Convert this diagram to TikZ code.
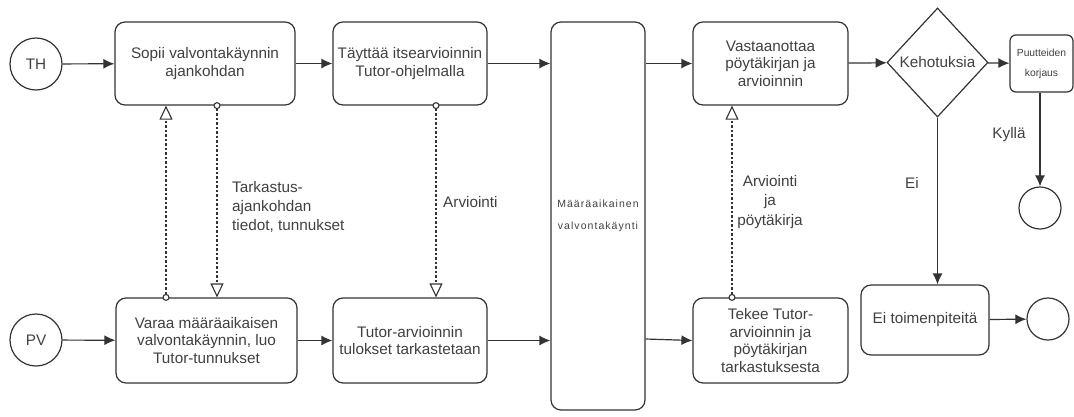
\documentclass[tikz,border=0pt]{standalone}
\usepackage{fontspec}
\setmainfont{Liberation Sans}
\usepackage{tikz}
\usetikzlibrary{positioning,arrows.meta,calc,shapes.geometric}

\begin{document}
\begin{tikzpicture}[x=1pt, y=-1pt,
  font=\fontsize{15.3}{17.5}\selectfont, text=black!75,
  task/.style={draw=black!80, line width=1.2pt, rounded corners=10pt, align=center, inner sep=1pt},
  gate/.style={draw=black!80, line width=1.2pt, diamond, inner sep=0pt, minimum width=101, minimum height=109},
  event/.style={draw=black!80, line width=1.2pt, circle, inner sep=0pt},
  flow/.style={draw=black!80, line width=1.2pt, -{Latex[length=11pt,width=10pt]}},
  msg/.style={draw=black!80, line width=1.1pt, dash pattern=on 2.5pt off 2pt, shorten <=-3.5pt,
    {Circle[open,length=7pt,fill=white]}-{Triangle[open,length=14pt,width=13pt,fill=white]}},
  lbl/.style={inner sep=0pt, align=left}]
\useasboundingbox (0,0) rectangle (1074,416);
% upper lane
\node[event, minimum size=52] (th) at (36,64) {TH};
\node[task, minimum width=180, minimum height=83] (sopii) at (205,63.5) {Sopii valvontakäynnin\\ajankohdan};
\node[task, minimum width=154, minimum height=83] (tayttaa) at (410,63.5) {Täyttää itsearvioinnin\\Tutor-ohjelmalla};
\node[task, minimum width=94, minimum height=388, font=\fontsize{10.5}{22}\selectfont\addfontfeature{LetterSpace=10}] (kaynti) at (598,216) {Määräaikainen\\valvontakäynti};
\node[task, minimum width=155, minimum height=83] (vast) at (770.5,63.5) {Vastaanottaa\\pöytäkirjan ja\\arvioinnin};
\node[gate] (keho) at (937.5,62.5) {Kehotuksia};
\node[task, rounded corners=6pt, minimum width=63, minimum height=57, font=\fontsize{10.3}{20}\selectfont] (puut) at (1041.5,63.5) {Puutteiden\\korjaus};
\node[event, minimum size=42] (end1) at (1040,208) {};
% lower lane
\node[event, minimum size=52] (pv) at (36,340) {PV};
\node[task, minimum width=181, minimum height=85] (varaa) at (206.5,340.5) {Varaa määräaikaisen\\valvontakäynnin, luo\\Tutor-tunnukset};
\node[task, minimum width=154, minimum height=85] (tulos) at (410,340.5) {Tutor-arvioinnin\\tulokset tarkastetaan};
\node[task, minimum width=155, minimum height=85] (tekee) at (770.5,340.5) {Tekee Tutor-\\arvioinnin ja\\pöytäkirjan\\tarkastuksesta};
\node[task, minimum width=128, minimum height=70] (eitoim) at (925,320) {Ei toimenpiteitä};
\node[event, minimum size=42] (end2) at (1048,319) {};
% sequence flows
\draw[flow] (th) -- (sopii);
\draw[flow] (sopii) -- (tayttaa);
\draw[flow] (tayttaa.east) -- (tayttaa.east -| kaynti.west);
\draw[flow] (vast.west -| kaynti.east) -- (vast.west);
\draw[flow] (vast) -- (keho);
\draw[flow] (keho) -- (puut);
\draw[flow] (puut.south -| end1.north) -- (end1.north);
\draw[flow] (keho.south) -- (keho.south |- eitoim.north);
\draw[flow] (eitoim) -- (end2);
\draw[flow] (pv) -- (varaa);
\draw[flow] (varaa) -- (tulos);
\draw[flow] (tulos.east) -- (tulos.east -| kaynti.west);
\draw[flow] ([yshift=1.5pt]kaynti.east |- tekee.west) -- (tekee.west);
% message flows
\draw[msg] ([xshift=-40.5pt]varaa.north) -- ([xshift=-40.5pt]varaa.north |- sopii.south);
\draw[msg] ([xshift=12pt]sopii.south) -- ([xshift=12pt]sopii.south |- varaa.north);
\draw[msg] ([xshift=26pt]tayttaa.south) -- ([xshift=26pt]tayttaa.south |- tulos.north);
\draw[msg] ([xshift=-38.5pt]tekee.north) -- ([xshift=-38.5pt]tekee.north |- vast.south);
% labels
\node[lbl, font=\fontsize{15.3}{19}\selectfont, anchor=west] (ltark) at (232,207) {Tarkastus-\\ajankohdan\\tiedot, tunnukset};
\node[lbl, anchor=west] (larv) at (443,202) {Arviointi};
\node[lbl, align=center, font=\fontsize{15.3}{19.5}\selectfont] (larvp) at (770,202) {Arviointi\\ja\\pöytäkirja};
\node[lbl] (lkylla) at (1009,135) {Kyllä};
\node[lbl] (lei) at (912,183) {Ei};
\end{tikzpicture}
\end{document}
